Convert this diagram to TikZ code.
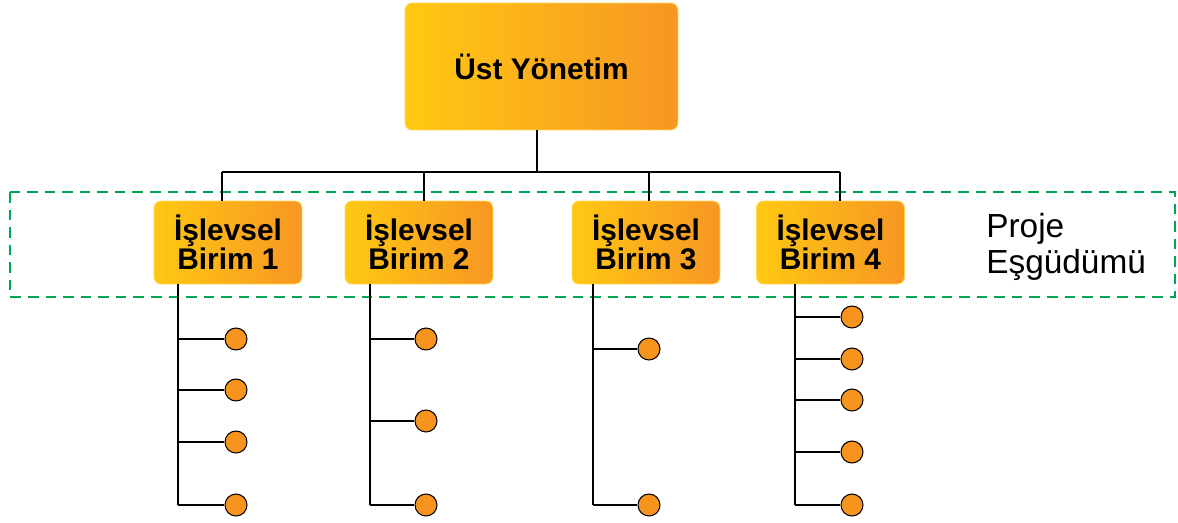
\documentclass[tikz,border=0pt]{standalone}
\usepackage{fontspec}
\setmainfont{Liberation Sans}
\usepackage{tikz}
\definecolor{boxyellow}{RGB}{255,200,18}
\definecolor{boxorange}{RGB}{247,150,36}
\definecolor{boxrim}{RGB}{255,215,80}
\definecolor{leaforange}{RGB}{247,148,29}
\definecolor{projgreen}{RGB}{0,166,81}
\tikzset{unit/.style = {shape=rectangle,rounded corners=4pt,draw=boxrim,line width=0.5pt,
    left color=boxyellow,right color=boxorange,minimum width=2.96cm,minimum height=1.66cm,
    align=center,font=\bfseries\fontsize{17}{16.5}\selectfont}}
\tikzset{top/.style = {unit,minimum width=5.46cm,minimum height=2.54cm,
    font=\bfseries\fontsize{17}{18}\selectfont}}
\tikzset{leaf/.style = {shape=circle,draw,line width=0.6pt,fill=leaforange,minimum size=0.44cm,inner sep=0pt}}
\tikzset{link/.style = {draw,line width=0.8pt}}

\begin{document}
\begin{tikzpicture}[x=0.02cm,y=-0.02cm]
        \useasboundingbox (0,0) rectangle (1178,522);
        % project coordination band
        \draw[projgreen,line width=1.6pt,dash pattern=on 6pt off 4pt] (10,192) rectangle (1175,297);
        \node[anchor=west,inner sep=0pt,align=left,font=\fontsize{19}{20.6}\selectfont] (proje) at (986,247) {Proje\\Eşgüdümü};
        % management
        \node[top] (ust) at (541.5,66.5) {Üst Yönetim};
        \coordinate (hub) at (537,172);
        \coordinate (j1) at (222,172);
        \coordinate (j2) at (424,172);
        \coordinate (j3) at (649,172);
        \coordinate (j4) at (840,172);
        \draw[link] (hub |- ust.south) -- (hub);
        \draw[link] (j1) -- (j4);
        % functional units
        \node[unit] (b1) at (228,242.5) {İşlevsel\\Birim 1};
        \draw[link] (j1) -- (j1 |- b1.north);
        \node[unit] (b2) at (419,242.5) {İşlevsel\\Birim 2};
        \draw[link] (j2) -- (j2 |- b2.north);
        \node[unit] (b3) at (646,242.5) {İşlevsel\\Birim 3};
        \draw[link] (j3) -- (j3 |- b3.north);
        \node[unit] (b4) at (830.5,242.5) {İşlevsel\\Birim 4};
        \draw[link] (j4) -- (j4 |- b4.north);
        % staff of unit 1
        \coordinate (s1) at (178,505);
        \draw[link] (s1 |- b1.south) -- (s1);
        \node[leaf] (c11) at (236,339) {};
        \draw[link] (c11) -- (c11 -| s1);
        \node[leaf] (c12) at (236,390) {};
        \draw[link] (c12) -- (c12 -| s1);
        \node[leaf] (c13) at (236,442) {};
        \draw[link] (c13) -- (c13 -| s1);
        \node[leaf] (c14) at (236,505) {};
        \draw[link] (c14) -- (c14 -| s1);
        % staff of unit 2
        \coordinate (s2) at (370,505);
        \draw[link] (s2 |- b2.south) -- (s2);
        \node[leaf] (c21) at (426,339) {};
        \draw[link] (c21) -- (c21 -| s2);
        \node[leaf] (c22) at (426,421) {};
        \draw[link] (c22) -- (c22 -| s2);
        \node[leaf] (c23) at (426,505) {};
        \draw[link] (c23) -- (c23 -| s2);
        % staff of unit 3
        \coordinate (s3) at (593,505);
        \draw[link] (s3 |- b3.south) -- (s3);
        \node[leaf] (c31) at (649,349) {};
        \draw[link] (c31) -- (c31 -| s3);
        \node[leaf] (c32) at (649,505) {};
        \draw[link] (c32) -- (c32 -| s3);
        % staff of unit 4
        \coordinate (s4) at (795,505);
        \draw[link] (s4 |- b4.south) -- (s4);
        \node[leaf] (c41) at (852,317) {};
        \draw[link] (c41) -- (c41 -| s4);
        \node[leaf] (c42) at (852,359) {};
        \draw[link] (c42) -- (c42 -| s4);
        \node[leaf] (c43) at (852,400) {};
        \draw[link] (c43) -- (c43 -| s4);
        \node[leaf] (c44) at (852,452) {};
        \draw[link] (c44) -- (c44 -| s4);
        \node[leaf] (c45) at (852,505) {};
        \draw[link] (c45) -- (c45 -| s4);
    \end{tikzpicture}
\end{document}
